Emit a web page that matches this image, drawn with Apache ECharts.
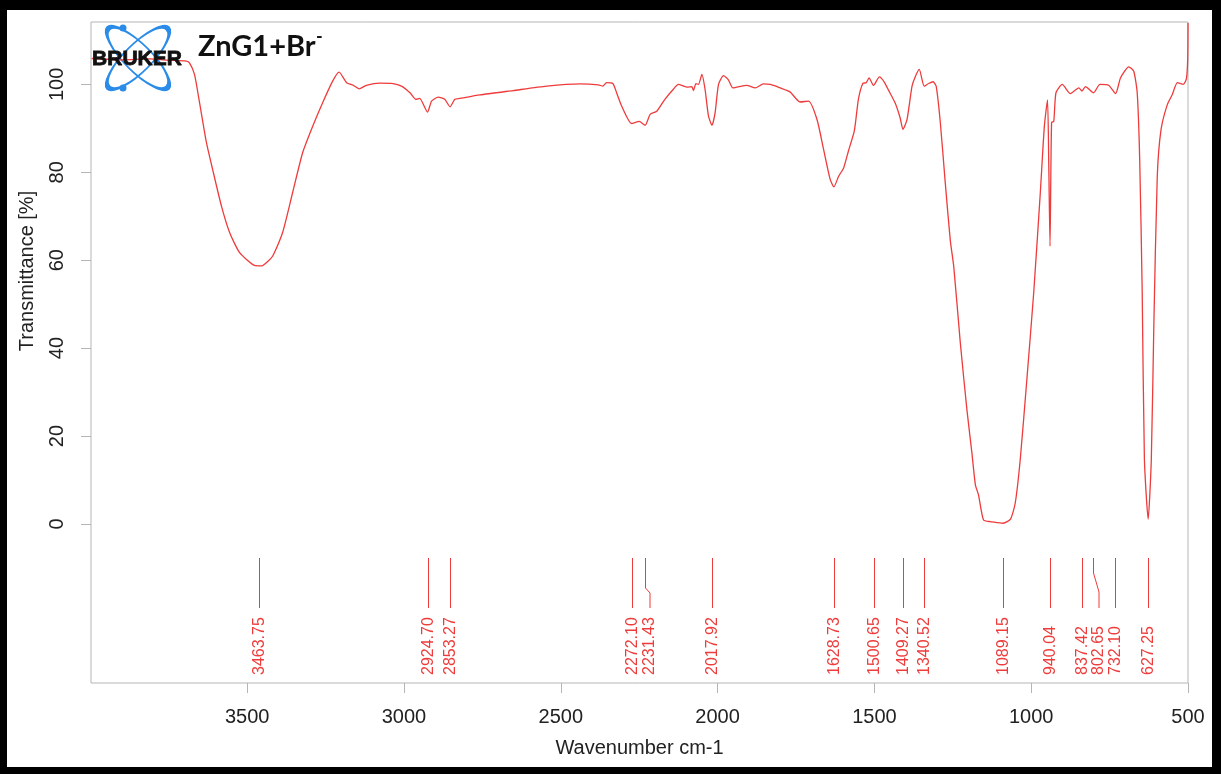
<!DOCTYPE html>
<html>
<head>
<meta charset="utf-8">
<script src="https://cdn.jsdelivr.net/npm/echarts@6/dist/echarts.min.js"></script>
<style>
  html, body { margin: 0; padding: 0; background: #000; }
  #chart {
    position: absolute; left: 0; top: 0; width: 1221px; height: 774px;
    background: #fff;
    box-shadow: inset 7px 10px 0 0 #000, inset -9px -7px 0 0 #000;
  }
</style>
</head>
<body>
<div id="chart"></div>
<script>
// ---- data ----
const wavenumbers = [3996, 3900, 3811, 3750, 3694, 3684, 3668, 3652, 3630, 3610, 3582, 3556, 3524, 3482, 3464, 3450, 3419, 3387, 3355, 3323, 3291, 3259, 3227, 3207, 3183, 3162, 3143, 3120, 3077, 3035, 3008, 2981, 2962, 2950, 2925, 2912, 2891, 2870, 2853, 2838, 2822, 2758, 2652, 2545, 2439, 2380, 2366, 2354, 2334, 2322, 2306, 2274, 2250, 2231, 2215, 2194, 2168, 2141, 2125, 2098, 2082, 2077, 2069, 2061, 2050, 2040, 2029, 2018, 2008, 1997, 1981, 1966, 1951, 1907, 1880, 1854, 1832, 1800, 1769, 1737, 1710, 1683, 1662, 1641, 1629, 1614, 1598, 1583, 1564, 1551, 1537, 1526, 1517, 1503, 1484, 1469, 1455, 1434, 1418, 1409, 1396, 1380, 1370, 1357, 1341, 1327, 1313, 1303, 1290, 1274, 1258, 1247, 1226, 1205, 1189, 1178, 1168, 1152, 1130, 1109, 1089, 1066, 1051, 1035, 1013, 992, 971, 958, 948, 944, 940, 935, 928, 921, 901, 875, 848, 838, 827, 801, 781, 753, 731, 715, 689, 673, 662, 654, 646, 639, 627, 617, 609, 598, 586, 566, 550, 534, 515, 505, 501, 500];
const transmittance = [105.9, 105.6, 105.8, 105.5, 105.3, 104.9, 102.3, 95.9, 86.8, 80.6, 72.3, 66.3, 61.7, 59.0, 58.7, 58.8, 60.9, 66.3, 75.4, 84.5, 90.5, 95.9, 100.8, 102.8, 100.4, 99.8, 99.0, 99.8, 100.3, 100.2, 99.6, 98.1, 96.6, 96.8, 93.7, 96.2, 97.1, 96.6, 94.9, 96.6, 96.8, 97.6, 98.6, 99.6, 100.1, 99.9, 99.6, 100.4, 100.2, 98.1, 95.1, 91.1, 91.6, 90.7, 93.2, 93.9, 96.6, 98.9, 100, 99.4, 99.5, 98.6, 100.2, 100, 102.3, 98.9, 92.8, 90.7, 93.5, 100, 102, 101.1, 99.2, 99.8, 99.2, 100.1, 100, 99.2, 98.3, 96, 96.2, 92, 85.2, 78.4, 76.7, 79.1, 81, 84.8, 89.4, 96.6, 100.2, 100.4, 101.5, 99.8, 101.7, 100.6, 98.7, 95.8, 92.4, 89.8, 92, 99.6, 101.7, 103.4, 99.6, 100.2, 100.6, 99.6, 91.5, 77.6, 64.5, 58.6, 41.2, 26, 16.1, 8.9, 6.6, 0.9, 0.5, 0.3, 0.15, 1.1, 4.7, 14.6, 33.6, 52.6, 75.3, 90.5, 96.5, 82, 63.2, 91.3, 91.6, 98.1, 100, 97.9, 99.2, 98.5, 99.5, 98.1, 100, 99.8, 97.9, 101.5, 104, 103, 98.1, 82.9, 52.6, 14.6, 1.1, 14.6, 44.9, 79.1, 89.7, 95.4, 97.7, 100.4, 100, 101.3, 105.7, 114];
const peakPositions = [3463.75, 2924.70, 2853.27, 2272.10, 2231.43, 2017.92, 1628.73, 1500.65, 1409.27, 1340.52, 1089.15, 940.04, 837.42, 802.65, 732.10, 627.25];
const peakLabels = ['3463.75', '2924.70', '2853.27', '2272.10', '2231.43', '2017.92', '1628.73', '1500.65', '1409.27', '1340.52', '1089.15', '940.04', '837.42', '802.65', '732.10', '627.25'];
const xTicks = [3500, 3000, 2500, 2000, 1500, 1000, 500];
const yTicks = [0, 20, 40, 60, 80, 100];

// label de-overlap shifts (layout only)
const labelShift = { '2231.43': { dx: 4.5, k1: 30, k2: 35 }, '802.65': { dx: 5.5, k1: 15, k2: 34 } };

const spectrum = wavenumbers.map((w, i) => [w, transmittance[i]]);
const peaks = peakPositions.map((p, i) => [p, peakLabels[i]]);

const RED = '#ee3b3b';
const FONT = 'Liberation Sans, Arial, sans-serif';

const chart = echarts.init(document.getElementById('chart'), null, { renderer: 'canvas' });
chart.setOption({
  animation: false,
  backgroundColor: 'transparent',
  grid: { left: 91, right: 33, top: 22, bottom: 91, show: true, borderColor: '#b5b5b5', borderWidth: 1, containLabel: false },
  xAxis: {
    type: 'value', min: 500, max: 3998, inverse: true,
    name: 'Wavenumber cm-1', nameLocation: 'middle', nameGap: 55,
    nameTextStyle: { fontFamily: FONT, fontSize: 20, color: '#222' },
    axisLine: { show: false, onZero: false },
    axisTick: { show: true, inside: false, length: 10, customValues: xTicks, lineStyle: { color: '#b5b5b5' } },
    axisLabel: { customValues: xTicks, margin: 24, fontFamily: FONT, fontSize: 20, color: '#222', formatter: v => String(v) },
    splitLine: { show: false }
  },
  yAxis: {
    type: 'value', min: -36.2, max: 114.2,
    axisLine: { show: false, onZero: false },
    axisTick: { show: true, inside: false, length: 10, customValues: yTicks, lineStyle: { color: '#b5b5b5' } },
    axisLabel: { customValues: yTicks, rotate: 90, margin: 24, fontFamily: FONT, fontSize: 20, color: '#222', formatter: v => String(v) },
    splitLine: { show: false }
  },
  series: [
    {
      type: 'line', data: spectrum, showSymbol: false, smooth: 0.2, clip: true,
      lineStyle: { color: RED, width: 1.3 }, z: 3
    },
    {
      type: 'custom', data: peaks, clip: false, z: 4,
      renderItem: function (params, api) {
        const v = api.value(0);
        const lbl = peakLabels[params.dataIndex];
        const base = api.coord([v, 0]);
        const x = Math.round(base[0]) + 0.5, y0 = Math.round(base[1]);
        const yTop = y0 + 34, yBot = y0 + 84, yText = y0 + 151;
        const s = labelShift[lbl];
        let pts, lx = x;
        if (s) {
          lx = x + s.dx;
          pts = [[x, yTop], [x, yTop + s.k1], [lx, yTop + s.k2], [lx, yBot]];
        } else {
          pts = [[x, yTop], [x, yBot]];
        }
        return {
          type: 'group',
          children: [
            { type: 'polyline', shape: { points: pts }, style: { stroke: RED, lineWidth: 1, fill: 'transparent' } },
            { type: 'text', x: lx, y: yText, rotation: Math.PI / 2,
              style: { text: lbl, fill: RED, font: '16px ' + FONT, textAlign: 'left', textVerticalAlign: 'middle' } }
          ]
        };
      }
    }
  ],
  graphic: [
    { type: 'text', x: 27, y: 271, rotation: Math.PI / 2, z: 10,
      style: { text: 'Transmittance [%]', fill: '#222', font: '20px ' + FONT, textAlign: 'center', textVerticalAlign: 'middle' } },
    { type: 'group', x: 138, y: 58, rotation: Math.PI / 4, z: 20, children: [
      { type: 'circle', shape: { cx: 0, cy: 0, r: 10 }, scaleX: 4.2, scaleY: 1.35,
        style: { stroke: '#2a8ce8', fill: 'none', lineWidth: 3, strokeNoScale: true } }
    ] },
    { type: 'group', x: 138, y: 58, rotation: -Math.PI / 4, z: 20, children: [
      { type: 'circle', shape: { cx: 0, cy: 0, r: 10 }, scaleX: 4.2, scaleY: 1.35,
        style: { stroke: '#2a8ce8', fill: 'none', lineWidth: 3, strokeNoScale: true } }
    ] },
    { type: 'circle', shape: { cx: 123, cy: 28, r: 3.5 }, z: 21, style: { fill: '#2a8ce8' } },
    { type: 'circle', shape: { cx: 123, cy: 88, r: 3.5 }, z: 21, style: { fill: '#2a8ce8' } },
    { type: 'text', x: 137, y: 59, z: 22,
      style: { text: 'BRUKER', fill: '#111', stroke: '#111', lineWidth: 0.8, font: 'bold 21px ' + FONT, textAlign: 'center', textVerticalAlign: 'middle' } },
    { type: 'text', x: 198, y: 47, z: 22,
      style: { text: 'ZnG1+Br', fill: '#111', font: 'bold 29px Lato, "Open Sans", sans-serif', textAlign: 'left', textVerticalAlign: 'middle' } },
    { type: 'text', x: 316, y: 37, z: 22,
      style: { text: '-', fill: '#111', font: 'bold 18px Lato, "Open Sans", sans-serif', textAlign: 'left', textVerticalAlign: 'middle' } }
  ]
});
</script>
</body>
</html>
